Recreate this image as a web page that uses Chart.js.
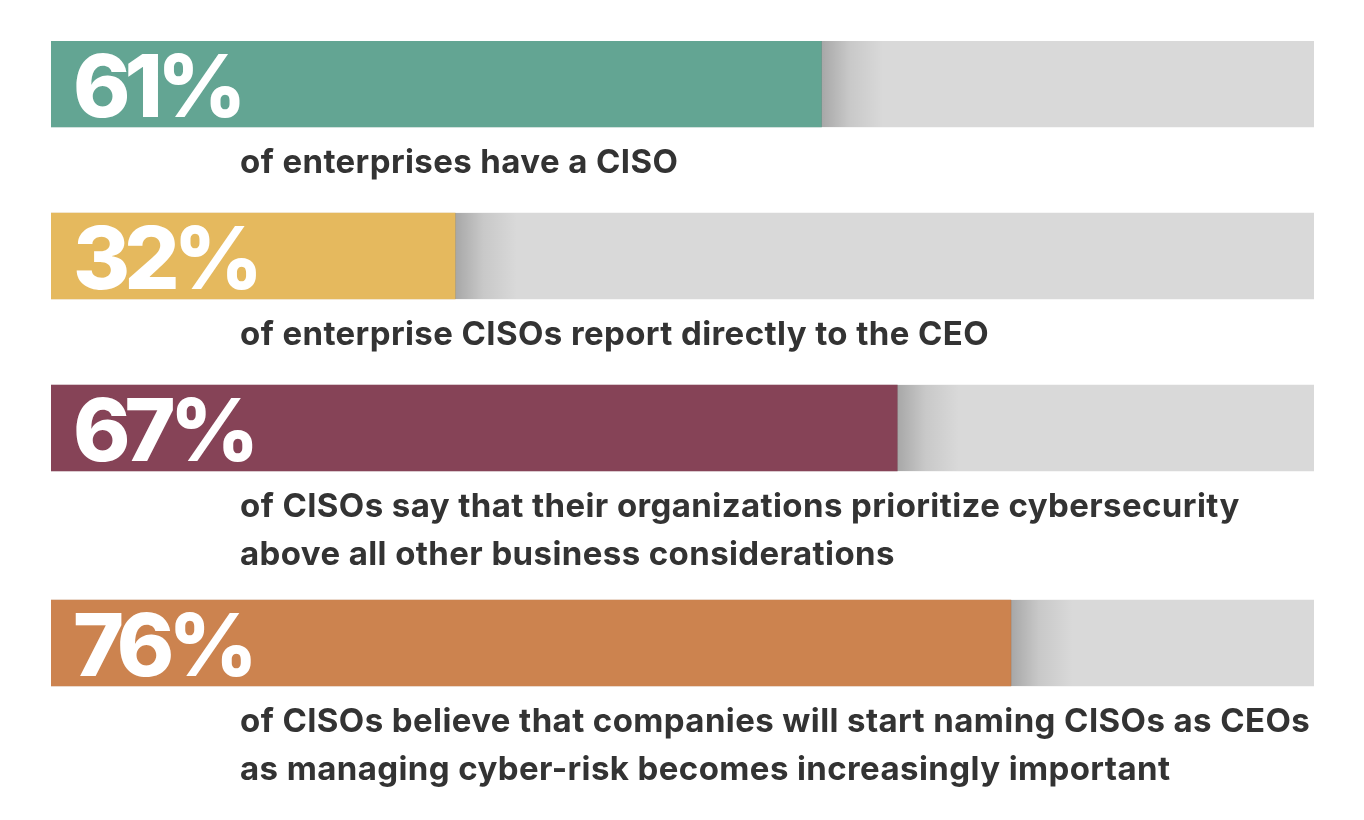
<!DOCTYPE html>
<html><head><meta charset="utf-8">
<script src="https://cdn.jsdelivr.net/npm/chart.js@4/dist/chart.umd.min.js"></script>
<style>html,body{margin:0;padding:0;background:#fff;overflow:hidden}#wrap{width:1364px;height:820px}</style>
</head><body><div id="wrap"><canvas id="c" width="1364" height="820"></canvas></div>
<script>
const percentLabels = ['61%', '32%', '67%', '76%'];
const values = [61, 32, 67, 76];
const descriptions = [
  ['of enterprises have a CISO'],
  ['of enterprise CISOs report directly to the CEO'],
  ['of CISOs say that their organizations prioritize cybersecurity', 'above all other business considerations'],
  ['of CISOs believe that companies will start naming CISOs as CEOs', 'as managing cyber-risk becomes increasingly important']
];
const barColors = ['#63a593', '#e5b95e', '#864357', '#cc834f'];
const scaleMax = 100;

// row layout derived from the number of description lines
const rowUnits = descriptions.map(d => 3 + d.length);
const centers = [];
let acc = 0;
rowUnits.forEach(u => { centers.push(acc + 1); acc += u; });
const totalUnits = acc;

const FONT = '"Inter", "Open Sans", sans-serif';

const overlay = {
  id: 'overlay',
  afterDatasetsDraw(chart) {
    const ctx = chart.ctx;
    const meta = chart.getDatasetMeta(1);
    meta.data.forEach((bar, i) => {
      const top = bar.y - bar.height / 2, bottom = bar.y + bar.height / 2;
      const g = ctx.createLinearGradient(bar.x, 0, bar.x + 62, 0);
      g.addColorStop(0, 'rgba(0,0,0,0.23)');
      g.addColorStop(0.45, 'rgba(0,0,0,0.08)');
      g.addColorStop(1, 'rgba(0,0,0,0)');
      ctx.save();
      ctx.fillStyle = g;
      ctx.fillRect(bar.x, top, 62, bar.height);
      ctx.fillStyle = '#ffffff';
      ctx.font = '800 87px ' + FONT;
      ctx.textBaseline = 'alphabetic';
      ctx.textAlign = 'left';
      ctx.letterSpacing = '-6px';
      ctx.fillText(percentLabels[i], bar.base + 22, bar.y + 33);
      ctx.fillStyle = '#333333';
      ctx.font = '700 33px ' + FONT;
      ctx.letterSpacing = '0.4px';
      descriptions[i].forEach((line, k) => {
        ctx.fillText(line, 240, bottom + 46 + k * 48);
      });
      ctx.restore();
    });
  }
};

new Chart(document.getElementById('c'), {
  type: 'bar',
  data: {
    datasets: [
      {
        label: 'track',
        data: centers.map(c => ({ x: scaleMax, y: c })),
        backgroundColor: '#d9d9d9',
        barThickness: 86,
        grouped: false,
        order: 2
      },
      {
        label: 'share',
        data: values.map((v, i) => ({ x: v, y: centers[i] })),
        backgroundColor: barColors,
        barThickness: 86,
        grouped: false,
        order: 1
      }
    ]
  },
  options: {
    indexAxis: 'y',
    responsive: false,
    animation: false,
    layout: { padding: { left: 51, right: 50, top: 41, bottom: 5 } },
    scales: {
      x: { type: 'linear', min: 0, max: scaleMax, display: false },
      y: { type: 'linear', min: 0, max: totalUnits, reverse: true, offset: false, display: false }
    },
    plugins: { legend: { display: false }, tooltip: { enabled: false } }
  },
  plugins: [overlay]
});
</script></body></html>
